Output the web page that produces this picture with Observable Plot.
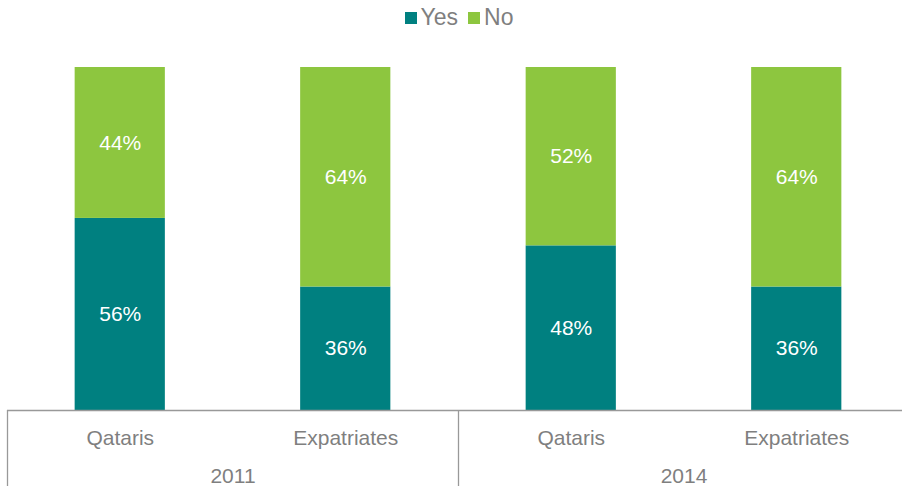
<!DOCTYPE html>
<html><head><meta charset="utf-8">
<script src="https://cdn.jsdelivr.net/npm/d3@7"></script>
<script src="https://cdn.jsdelivr.net/npm/@observablehq/plot@0.6"></script>
<style>
body{margin:0;background:#fff;font-family:"Liberation Sans",Arial,sans-serif;}
#wrap{position:relative;width:902px;height:486px;}
#legend{position:absolute;top:4px;left:8px;width:902px;text-align:center;font-size:23px;color:#7f7f7f;white-space:nowrap;}
#legend span.sw{display:inline-block;width:12px;height:12px;margin-right:4px;vertical-align:1px;}
#legend span.item{margin:0 5px;}
</style></head>
<body><div id="wrap"><div id="legend"></div></div>
<script>
const years = ["2011", "2014"];
const groups = ["Qataris", "Expatriates"];
const answers = ["Yes", "No"];
const colors = ["#008080", "#8DC63F"];
const yesValues = [56, 36, 48, 36];
const noValues = [44, 64, 52, 64];

const bars = [];
years.forEach((yr, yi) => groups.forEach((g, gi) => {
  const i = yi * groups.length + gi;
  bars.push({i, year: yr, group: g, answer: "Yes", value: yesValues[i]});
  bars.push({i, year: yr, group: g, answer: "No", value: noValues[i]});
}));
const cats = bars.filter(d => d.answer === "Yes");
const yearRows = years.map((y, k) => ({year: y, c: k * 2 + 1}));

const chart = Plot.plot({
  width: 902, height: 486,
  marginLeft: 7, marginRight: 0, marginTop: 67, marginBottom: 76,
  x: {type: "linear", domain: [0, 4], range: [7, 909], axis: null},
  y: {domain: [0, 100], range: [410, 67], axis: null},
  color: {domain: answers, range: colors},
  style: {fontFamily: "'Liberation Sans', Arial, sans-serif", overflow: "visible"},
  marks: [
    Plot.rectY(bars, Plot.stackY({x1: d => d.i + 0.3, x2: d => d.i + 0.7, y: "value", z: "answer", fill: "answer", order: answers})),
    Plot.text(bars, Plot.stackY({x: d => d.i + 0.5, y: "value", z: "answer", order: answers, text: d => d.value + "%", fill: "white", fontSize: 21})),
    Plot.ruleY([0], {stroke: "#999", strokeWidth: 1.3}),
    Plot.ruleX([0, 2, 4], {y1: 0, y2: -30, stroke: "#999", strokeWidth: 1.3}),
    Plot.text(cats, {x: d => d.i + 0.5, y: 0, dy: 28, text: "group", fill: "#7f7f7f", fontSize: 21}),
    Plot.text(yearRows, {x: "c", y: 0, dy: 66, text: "year", fill: "#7f7f7f", fontSize: 21})
  ]
});
document.getElementById("wrap").appendChild(chart);

const leg = document.getElementById("legend");
answers.forEach((a, k) => {
  const s = document.createElement("span");
  s.className = "item";
  s.innerHTML = `<span class="sw" style="background:${colors[k]}"></span>${a}`;
  leg.appendChild(s);
});
</script>
</body></html>
